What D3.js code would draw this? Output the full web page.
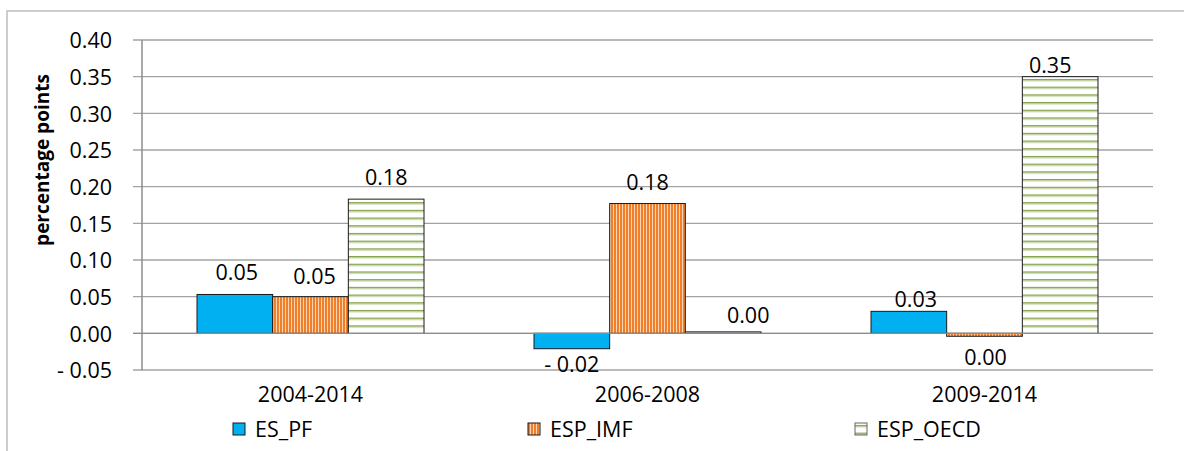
<!DOCTYPE html>
<html>
<head>
<meta charset="utf-8">
<script src="https://cdn.jsdelivr.net/npm/d3@7/dist/d3.min.js"></script>
<style>
  html, body { margin: 0; padding: 0; background: #fff; }
  svg { display: block; font-family: "Open Sans", "Noto Sans", sans-serif; }
</style>
</head>
<body>
<svg id="chart" width="1184" height="451"></svg>
<script>
// ---- data ----
const categories = ["2004-2014", "2006-2008", "2009-2014"];
const seriesNames = ["ES_PF", "ESP_IMF", "ESP_OECD"];
const esPF = [0.053, -0.021, 0.030];
const espIMF = [0.050, 0.177, -0.004];
const espOECD = [0.183, 0.002, 0.350];
const yTickValues = [-0.05, 0.00, 0.05, 0.10, 0.15, 0.20, 0.25, 0.30, 0.35, 0.40];
const yAxisTitle = "percentage points";

// ---- layout (pixel offsets for data labels, [dx, dy] from bar end) ----
const labelShift = {
  ES_PF:   [[2, -14], [0, 23], [7, -4]],
  ESP_IMF: [[4, -13], [0, -14], [1, 29]],
  ESP_OECD:[[0, -14], [25, -9], [-10, -4]]
};
const legendX = [233, 528, 855];
const fontSize = 21.5;

const seriesValues = [esPF, espIMF, espOECD];
const fills = ["#00B0F0", "url(#pVert)", "url(#pHoriz)"];

const svg = d3.select("#chart");
svg.append("rect").attr("width", 1184).attr("height", 451).attr("fill", "#fff");

// patterns
const defs = svg.append("defs");
const pv = defs.append("pattern").attr("id", "pVert").attr("patternUnits", "userSpaceOnUse")
  .attr("width", 3).attr("height", 10);
pv.append("rect").attr("width", 3).attr("height", 10).attr("fill", "#F07F2A");
pv.append("rect").attr("x", 2).attr("width", 1).attr("height", 10).attr("fill", "#FAD3B2");
const ph = defs.append("pattern").attr("id", "pHoriz").attr("patternUnits", "userSpaceOnUse")
  .attr("width", 10).attr("height", 7.7);
ph.append("rect").attr("width", 10).attr("height", 7.7).attr("fill", "#fff");
ph.append("rect").attr("y", 2).attr("width", 10).attr("height", 1.4).attr("fill", "#7A9A3E");
ph.append("rect").attr("y", 3.4).attr("width", 10).attr("height", 1).attr("fill", "#C8D9A8");

// outer frame (top and left visible)
svg.append("path").attr("d", "M7,451 L7,11 L1184,11").attr("fill", "none")
  .attr("stroke", "#BDBDBD").attr("stroke-width", 1.5);

const plot = { left: 142, right: 1153, top: 40, bottom: 370 };

const y = d3.scaleLinear().domain([-0.05, 0.40]).range([plot.bottom, plot.top]);
const x0 = d3.scaleBand().domain(categories).range([plot.left, plot.right]).padding(0);
const x1 = d3.scaleBand().domain(seriesNames).range([55, x0.bandwidth() - 55]).padding(0);

const fmt = v => {
  const r = Math.round(v * 100) / 100;
  const s = d3.format(".2f")(Math.abs(r));
  return r < 0 ? "- " + s : s;
};

// gridlines
svg.append("g").selectAll("line").data(yTickValues).join("line")
  .attr("x1", plot.left - 9).attr("x2", plot.right)
  .attr("y1", d => y(d)).attr("y2", d => y(d))
  .attr("stroke", "#A3A3A3").attr("stroke-width", 1.4);

// y axis
const yAxis = d3.axisLeft(y).tickValues(yTickValues).tickFormat(fmt).tickSize(0).tickPadding(30);
const gy = svg.append("g").attr("transform", `translate(${plot.left},0)`).call(yAxis);
gy.select(".domain").remove();
gy.selectAll("text").attr("font-size", fontSize).attr("fill", "#000")
  .attr("font-family", "'Open Sans', sans-serif").attr("dy", "0.36em");
svg.append("line").attr("x1", plot.left).attr("x2", plot.left)
  .attr("y1", plot.top).attr("y2", plot.bottom)
  .attr("stroke", "#8C8C8C").attr("stroke-width", 1.5);

// bars
const groups = svg.append("g").selectAll("g").data(categories).join("g")
  .attr("transform", d => `translate(${x0(d)},0)`);

seriesNames.forEach((name, si) => {
  groups.append("rect")
    .attr("x", x1(name))
    .attr("width", x1.bandwidth())
    .attr("y", (c, ci) => Math.min(y(0), y(seriesValues[si][ci])))
    .attr("height", (c, ci) => Math.max(0.8, Math.abs(y(seriesValues[si][ci]) - y(0))))
    .attr("fill", fills[si])
    .attr("stroke", "#1a1a1a")
    .attr("stroke-width", 1);
});

// zero line redraw
svg.append("line").attr("x1", plot.left - 9).attr("x2", plot.right)
  .attr("y1", y(0)).attr("y2", y(0)).attr("stroke", "#8C8C8C").attr("stroke-width", 1.4);

// data labels
seriesNames.forEach((name, si) => {
  groups.append("text")
    .attr("x", (c, ci) => x1(name) + x1.bandwidth() / 2 + labelShift[name][ci][0])
    .attr("y", (c, ci) => y(seriesValues[si][ci]) + labelShift[name][ci][1])
    .attr("text-anchor", "middle")
    .attr("font-size", fontSize)
    .attr("fill", "#000")
    .text((c, ci) => fmt(seriesValues[si][ci]));
});

// category labels
svg.append("g").selectAll("text").data(categories).join("text")
  .attr("x", d => x0(d) + x0.bandwidth() / 2)
  .attr("y", 402)
  .attr("text-anchor", "middle")
  .attr("font-size", fontSize)
  .attr("fill", "#000")
  .text(d => d);

// y axis title
svg.append("text")
  .attr("transform", "translate(49,160) rotate(-90)")
  .attr("text-anchor", "middle")
  .attr("font-size", 19)
  .attr("font-weight", "bold")
  .attr("fill", "#000")
  .text(yAxisTitle);

// legend
const legend = svg.append("g").selectAll("g").data(seriesNames).join("g")
  .attr("transform", (d, i) => `translate(${legendX[i]},423)`);
legend.append("rect").attr("width", 12).attr("height", 12)
  .attr("fill", (d, i) => fills[i]).attr("stroke", (d, i) => i === 2 ? "#666" : "#1a1a1a").attr("stroke-width", 1);
legend.append("text").attr("x", 22).attr("y", 14)
  .attr("font-size", fontSize).attr("fill", "#000").text(d => d);
</script>
</body>
</html>
